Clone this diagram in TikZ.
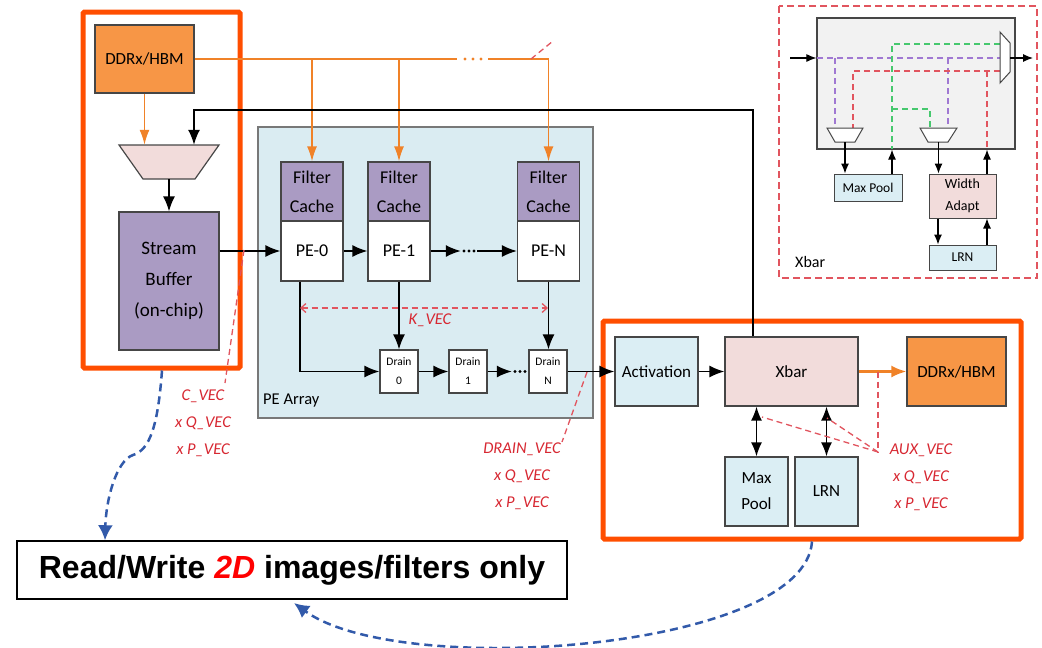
\documentclass[tikz,border=0pt]{standalone}
\usepackage{fontspec}
\setmainfont{Carlito}
\newfontfamily\arialf{Liberation Sans}
\usetikzlibrary{arrows.meta,calc}
\definecolor{frameor}{RGB}{255,78,0}
\definecolor{ddrfill}{RGB}{247,150,70}
\definecolor{orline}{RGB}{240,130,40}
\definecolor{purp}{RGB}{170,155,195}
\definecolor{peblue}{RGB}{218,236,242}
\definecolor{lblue}{RGB}{219,238,244}
\definecolor{pinkf}{RGB}{242,220,219}
\definecolor{redtxt}{RGB}{215,40,50}
\definecolor{redln}{RGB}{225,85,95}
\definecolor{bluedash}{RGB}{50,90,170}
\definecolor{bord}{RGB}{70,70,70}
\definecolor{peborder}{RGB}{120,120,120}
\definecolor{grayf}{RGB}{242,242,242}
\definecolor{greend}{RGB}{70,200,110}
\definecolor{purpd}{RGB}{160,120,210}
\tikzset{
  box/.style={draw=bord, line width=1.2pt, inner sep=1pt, align=center, font=\fontsize{17}{20}\selectfont},
  arr/.style={-{Latex[length=15pt,width=12pt]}, line width=1.6pt},
  sarr/.style={-{Latex[length=10pt,width=8pt]}, line width=1.1pt},
  orln/.style={draw=orline, line width=1.6pt},
  orarr/.style={draw=orline, line width=1.6pt, -{Latex[length=15pt,width=10pt]}},
  rdash/.style={draw=redln, line width=1.3pt, dash pattern=on 6pt off 4pt},
  idash/.style={line width=1.2pt, dash pattern=on 6pt off 4pt},
  rlab/.style={text=redtxt, font=\fontsize{16.5}{27}\selectfont\itshape, align=center, inner sep=0pt},
  bdash/.style={draw=bluedash, line width=2.5pt, dash pattern=on 8pt off 5pt, -{Latex[length=15pt,width=15pt]}},
  frame/.style={draw=frameor, line width=5pt, rounded corners=1.5pt, inner sep=0pt},
  dotsnode/.style={inner sep=0pt, minimum width=16, minimum height=6},
  dbl/.style={line width=1.6pt, {Latex[length=14pt,width=11pt]}-{Latex[length=14pt,width=11pt]}},
}
\begin{document}
\begin{tikzpicture}[x=1pt,y=-1pt]
\useasboundingbox (0,0) rectangle (1042,648);

% ---------- frames ----------
\node[frame, minimum width=157, minimum height=356] (frameA) at (161.5,190) {};
\node[frame, minimum width=418, minimum height=218] (frameB) at (812,430) {};

% ---------- left column ----------
\node[box, fill=ddrfill, minimum width=99, minimum height=68] (ddr1) at (144.5,59) {DDRx/HBM};
\draw[draw=bord, line width=1.2pt, fill=pinkf] (119,145) -- (219,145) -- (195,179) -- (143,179) -- cycle;
\node[inner sep=0pt, minimum width=100, minimum height=34] (mux1) at (169,162) {};
\node[box, fill=purp, minimum width=100, minimum height=138, font=\fontsize{19}{31}\selectfont] (sb) at (169,281) {Stream\\Buffer\\(on-chip)};

% ---------- PE array ----------
\node[draw=peborder, fill=peblue, line width=1.5pt, minimum width=335, minimum height=291, inner sep=0pt] (pea) at (425.5,272.5) {};
\node[anchor=west, inner sep=0pt, font=\fontsize{16.5}{20}\selectfont] (pealab) at (263,401) {PE Array};

\foreach \n/\cx in {0/312,1/399,N/548.5}{
  \node[box, fill=purp, minimum width=62, minimum height=59, font=\fontsize{18}{29}\selectfont] (fc\n) at (\cx,191.5) {Filter\\Cache};
  \node[box, fill=white, minimum width=62, minimum height=60, font=\fontsize{18}{22}\selectfont] (pe\n) at (\cx,251) {PE-\n};
}
\foreach \n/\cx in {0/399,1/468,N/548}{
  \node[box, fill=white, minimum width=38, minimum height=43, font=\fontsize{11.5}{19}\selectfont] (dr\n) at (\cx,371.5) {Drain\\\n};
}
\node[dotsnode] (pdots) at (469,251) {};
\node[dotsnode] (ddots) at (520,371.5) {};
\foreach \d in {pdots,ddots}{
  \foreach \dx in {-5,0,5} \fill ([xshift=\dx pt]\d.center) circle (1.7);
}

% ---------- right block ----------
\node[box, fill=lblue, minimum width=83, minimum height=69] (act) at (656.5,371.5) {Activation};
\node[box, fill=pinkf, minimum width=133, minimum height=69] (xbar) at (791.5,371.5) {Xbar};
\node[box, fill=ddrfill, minimum width=99, minimum height=69] (ddr2) at (956.5,371.5) {DDRx/HBM};
\node[box, fill=lblue, minimum width=63, minimum height=69, font=\fontsize{17}{26}\selectfont] (mp) at (756.5,491.5) {Max\\Pool};
\node[box, fill=lblue, minimum width=63, minimum height=69] (lrn) at (826.5,491.5) {LRN};

% ---------- bottom note ----------
\node[draw=black, line width=1.5pt, fill=white, minimum width=550, minimum height=58, inner sep=0pt,
      font=\arialf\bfseries\fontsize{32}{36}\selectfont] (rw) at (292,570)
      {Read/Write {\color{red}\itshape 2D} images/filters only};

% ---------- orange bus ----------
\coordinate (b1) at (457,59);
\coordinate (b2) at (488,59);
\draw[orln] (ddr1.east) -- (b1);
\foreach \x in {465,473,481} \fill[orline] (\x,59) circle (1.7);
\draw[orarr] (b2) -| (fcN.north);
\draw[orarr] (fc0.north |- ddr1.east) -- (fc0.north);
\draw[orarr] (fc1.north |- ddr1.east) -- (fc1.north);
\draw[orarr] (ddr1.south) -- (ddr1.south |- mux1.north);
\coordinate (ts1) at (531,59);
\coordinate (ts2) at (553,41);
\draw[rdash] (ts1) -- (ts2);

% ---------- black data path ----------
\coordinate (fbk) at (753,110);
\draw[arr] (fbk |- xbar.north) -- (fbk) -| ([xshift=25pt]mux1.north);
\draw[arr] (mux1.south) -- (sb.north);
\draw[arr] (sb.east |- pe0.west) -- (pe0.west);
\draw[arr] (pe0.east) -- (pe1.west);
\draw[arr] (pe1.east) -- (pdots.west);
\draw[arr] (pdots.east) -- (peN.west);
\draw[arr] ([xshift=-12pt]pe0.south) |- (dr0.west);
\draw[arr] (pe1.south) -- (dr0.north);
\draw[arr] (peN.south) -- (peN.south |- drN.north);
\draw[arr] (dr0.east) -- (dr1.west);
\draw[arr] (dr1.east) -- (ddots.west);
\draw[arr] (drN.east) -- (act.west);
\draw[arr] (act.east) -- (xbar.west);
\draw[draw=orline, line width=2.4pt, -{Latex[length=15pt,width=12pt]}] (xbar.east) -- (ddr2.west);
\draw[dbl] (mp.north) -- (mp.north |- xbar.south);
\draw[dbl] (lrn.north) -- (lrn.north |- xbar.south);

% ---------- red vector annotations ----------
\coordinate (kL) at (300,308);
\coordinate (kR) at (548,308);
\draw[rdash, {Straight Barb[length=5pt,width=9pt]}-{Straight Barb[length=5pt,width=9pt]}] (kL) -- (kR);
\node[rlab] (klab) at (430,320) {K\_VEC};

\coordinate (c1) at (244,250);
\coordinate (c2) at (225,383);
\draw[rdash] (c1) -- (c2);
\node[rlab, anchor=north] (clab) at (203,390) {C\_VEC\\x Q\_VEC\\x P\_VEC};

\coordinate (d1) at (587,372);
\coordinate (d2) at (562,442);
\draw[rdash] (d1) -- (d2);
\node[rlab, anchor=north] (dlab) at (522,443) {DRAIN\_VEC\\x Q\_VEC\\x P\_VEC};

\coordinate (auxp) at (878,452);
\coordinate (ax1) at (762,417);
\coordinate (ax2) at (827,418);
\draw[rdash] (auxp |- xbar.east) -- (auxp);
\draw[rdash] (auxp) -- (ax1);
\draw[rdash] (auxp) -- (ax2);
\node[rlab, anchor=north] (alab) at (921,444) {AUX\_VEC\\x Q\_VEC\\x P\_VEC};

% ---------- blue dashed curves ----------
\draw[bdash] (frameA.south -| 162,0) .. controls (158,425) and (150,450) .. (133,455) .. controls (116,461) and (106,500) .. (rw.north -| 105,0);
\draw[bdash] (frameB.south -| 812,0) .. controls (805,650) and (400,680) .. (294,603);

% ---------- Xbar inset ----------
\draw[draw=redln, line width=1.3pt, dash pattern=on 7pt off 4pt] (779,6) rectangle (1037,278);
\node[draw=bord, line width=1.2pt, fill=grayf, minimum width=198, minimum height=131, inner sep=0pt] (gbox) at (916,83.5) {};
\node[anchor=west, inner sep=0pt, font=\fontsize{16}{18}\selectfont] (xlab) at (795,262) {Xbar};
\node[box, fill=lblue, minimum width=68, minimum height=27, font=\fontsize{13.5}{16}\selectfont, line width=1pt] (mp2) at (868,187.5) {Max Pool};
\node[box, fill=pinkf, minimum width=67, minimum height=44, font=\fontsize{14}{22}\selectfont, line width=1pt] (wa) at (962.5,196) {Width\\Adapt};
\node[box, fill=lblue, minimum width=67, minimum height=25, font=\fontsize{13.5}{16}\selectfont, line width=1pt] (lrn2) at (962.5,257.5) {LRN};

% dashed routes
\draw[idash, draw=purpd] (817,58) -- (1000,58);
\draw[idash, draw=purpd] (835,58) -- (835,128);
\draw[idash, draw=purpd] (948,58) -- (948,128);
\draw[idash, draw=redln] (1000,71) -- (853,71) -- (853,128);
\draw[idash, draw=redln] (987,71) -- (987,149);
\draw[idash, draw=greend] (1000,44) -- (892,44) -- (892,149);
\draw[idash, draw=greend] (892,109) -- (930,109) -- (930,128);

% muxes
\draw[draw=bord, line width=1pt, fill=white] (1000,32) -- (1010,43) -- (1010,72) -- (1000,83) -- cycle;
\node[inner sep=0pt, minimum width=10, minimum height=51] (omux) at (1005,57.5) {};
\draw[draw=bord, line width=1pt, fill=white] (827,128) -- (863,128) -- (855,142) -- (835,142) -- cycle;
\node[inner sep=0pt, minimum width=36, minimum height=14] (lmux) at (845,135) {};
\draw[draw=bord, line width=1pt, fill=white] (920,128) -- (957,128) -- (948,142) -- (928,142) -- cycle;
\node[inner sep=0pt, minimum width=37, minimum height=14] (rmux) at (938.5,135) {};

\coordinate (inA) at (790,58);
\coordinate (outA) at (1033,58);
\draw[sarr] (inA) -- (inA -| gbox.west);
\draw[sarr] (omux.east |- outA) -- (outA);
\draw[sarr] (lmux.south) -- (lmux.south |- mp2.north);
\draw[sarr] ([xshift=24pt]mp2.north) -- ([xshift=24pt]mp2.north |- gbox.south);
\draw[sarr] (rmux.south) -- (rmux.south |- wa.north);
\draw[sarr] ([xshift=24.5pt]wa.north) -- ([xshift=24.5pt]wa.north |- gbox.south);
\draw[sarr] ([xshift=-24.5pt]wa.south) -- ([xshift=-24.5pt]lrn2.north);
\draw[sarr] ([xshift=24.5pt]lrn2.north) -- ([xshift=24.5pt]wa.south);
\end{tikzpicture}
\end{document}
